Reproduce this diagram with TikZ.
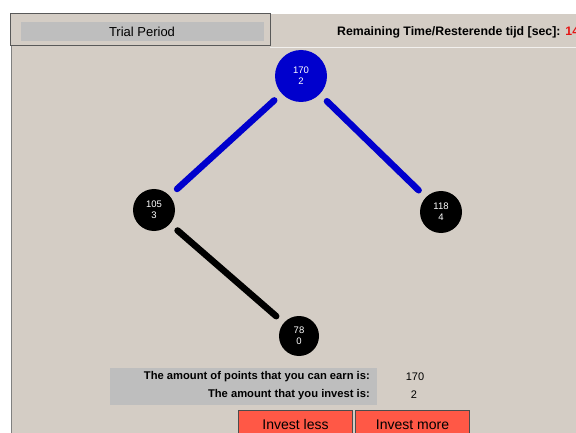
\documentclass[tikz,border=0pt]{standalone}
\usepackage{fontspec}
\setmainfont{Liberation Sans}
\usetikzlibrary{positioning}
\definecolor{panelbg}{RGB}{212,205,197}
\definecolor{barfill}{RGB}{190,190,190}
\definecolor{nodeblue}{RGB}{0,0,205}
\definecolor{btnred}{RGB}{255,88,70}
\definecolor{timered}{RGB}{230,20,20}

\tikzset{
  choice/.style={circle, fill=black, text=white, inner sep=0pt, align=center,
    font=\fontsize{9.5}{11}\selectfont},
  chosen/.style={choice, fill=nodeblue},
  link/.style={line width=6.5pt, line cap=round, shorten <=10pt, shorten >=10pt},
  button/.style={draw=gray!60!black, line width=1pt, fill=btnred, anchor=north west,
    minimum width=114pt, minimum height=28pt, inner sep=0pt,
    font=\fontsize{14}{16}\selectfont},
  infotext/.style={anchor=east, inner sep=0pt, font=\fontsize{11.2}{13}\selectfont\bfseries},
  infovalue/.style={inner sep=0pt, font=\fontsize{11}{13}\selectfont}
}

\begin{document}
\begin{tikzpicture}[x=1pt, y=-1pt]
\useasboundingbox (0,0) rectangle (576,433);
\clip (0,0) rectangle (576,433);
% panel
\fill[white] (0,0) rectangle (576,433);
\fill[panelbg] (11,14) rectangle (576,433);
\draw[line width=1pt, color=gray] (11,14) -- (11,433);
\draw[line width=0.8pt, color=white!70!panelbg] (270,47) -- (576,47);

% header
\draw[line width=1pt, color=gray!70!black, fill=panelbg] (10,14) rectangle (270,46);
\fill[barfill] (21,22) rectangle (264,41);
\node[inner sep=0pt, font=\fontsize{13}{15}\selectfont] (title) at (142,32) {Trial Period};
\node[anchor=west, inner sep=0pt, font=\fontsize{12.3}{14}\selectfont\bfseries] (timer) at (337,32)
  {Remaining Time/Resterende tijd [sec]:\hspace{5pt}\textcolor{timered}{14}};

% tree
\node[chosen, minimum size=52pt] (top) at (301,76) {170\\2};
\node[choice, minimum size=42pt] (left) at (154,210) {105\\3};
\node[choice, minimum size=42pt] (right) at (441,212) {118\\4};
\node[choice, minimum size=40pt] (bottom) at (299,336) {78\\0};

\draw[link, color=nodeblue] (top) -- (left);
\draw[link, color=nodeblue] (top) -- (right);
\draw[link, color=black] (left) -- (bottom);

% info
\fill[barfill] (110,368) rectangle (377,405);
\node[infotext] (earn) at (370,377) {The amount of points that you can earn is:};
\node[infotext] (invest) at (370,395) {The amount that you invest is:};
\node[infovalue] (earnval) at (415,377) {170};
\node[infovalue] (investval) at (414,395) {2};

% buttons
\node[button] (less) at (238,410) {Invest less};
\node[button] (more) at (355,410) {Invest more};
\end{tikzpicture}
\end{document}
